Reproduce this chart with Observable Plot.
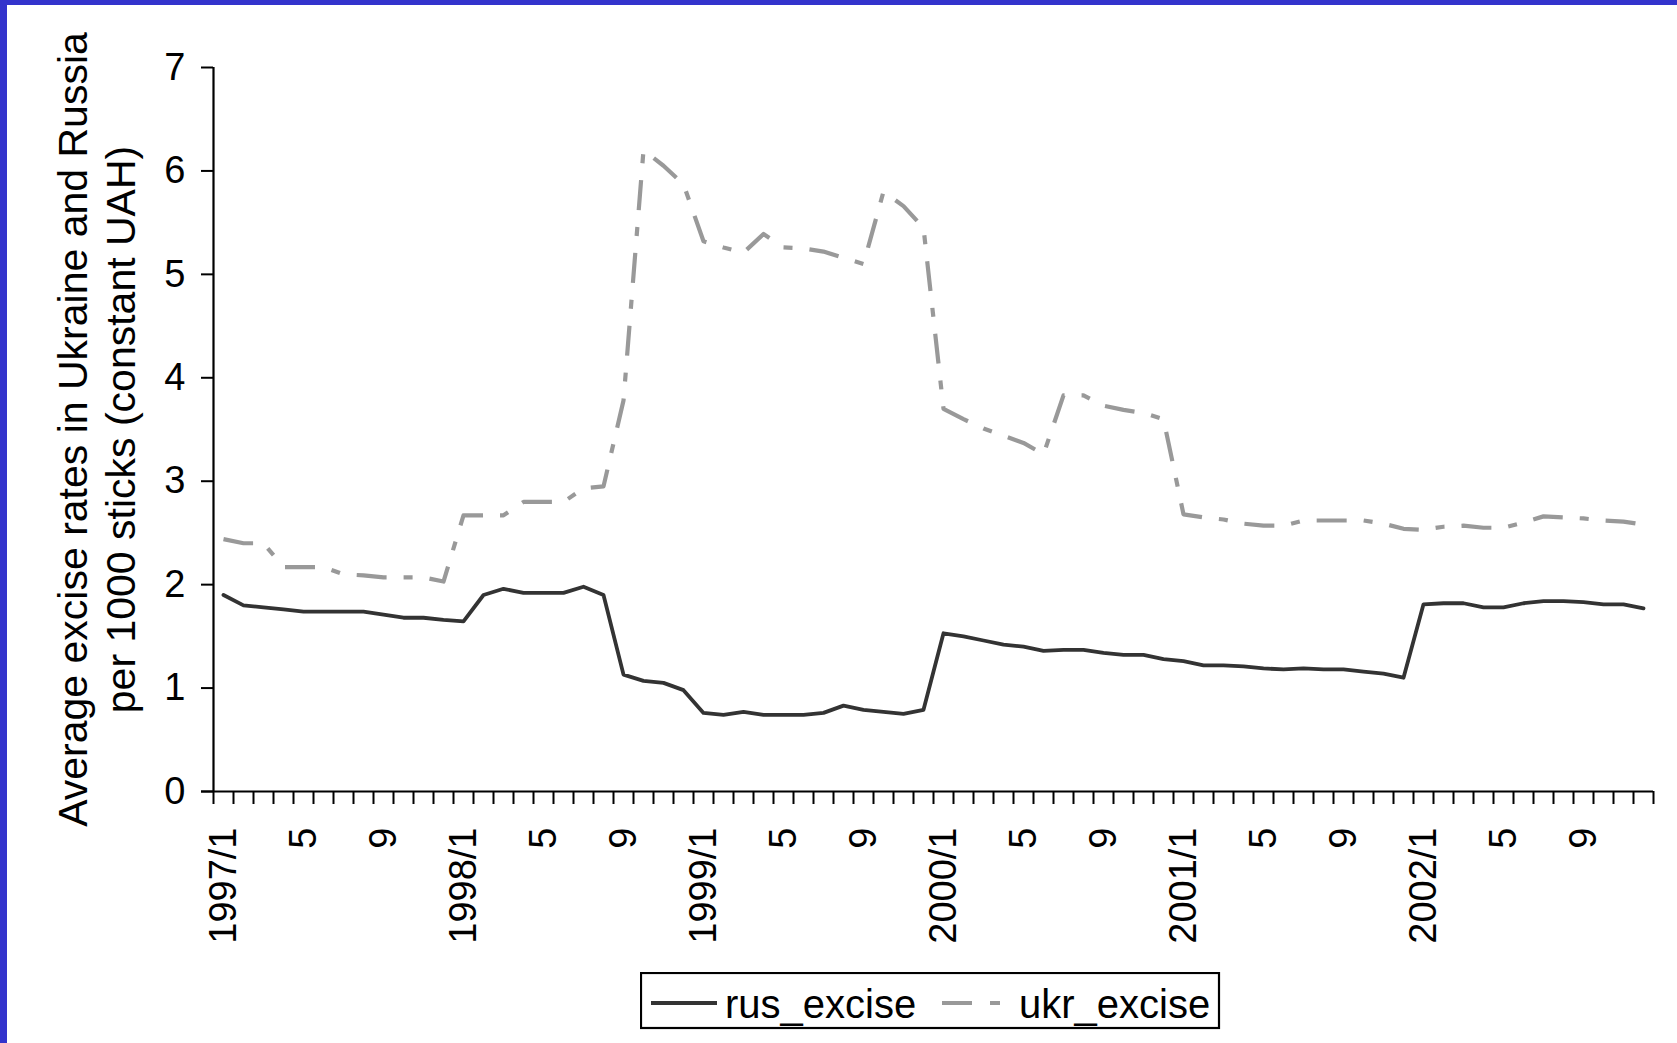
<!DOCTYPE html>
<html><head><meta charset="utf-8">
<script src="https://cdn.jsdelivr.net/npm/d3@7"></script>
<script src="https://cdn.jsdelivr.net/npm/@observablehq/plot@0.6"></script>
<style>
html,body{margin:0;padding:0;background:#3333cc;width:1677px;height:1043px;overflow:hidden;font-family:"Liberation Sans",Arial,sans-serif;}
#frame{position:absolute;left:7px;top:5px;width:1670px;height:1038px;background:#fff;}
#chart{position:absolute;left:0;top:0;}
#legend{position:absolute;left:633px;top:967px;}
</style></head><body><div id="frame"><div id="chart"></div><div id="legend"></div></div>
<script>
// Monthly series, 1997/1 .. 2002/12
const rusExcise = [
  1.90,1.80,1.78,1.76,1.74,1.74,1.74,1.74,1.71,1.68,1.68,1.66,
  1.645,1.90,1.96,1.92,1.92,1.92,1.98,1.90,1.13,1.07,1.05,0.98,
  0.76,0.74,0.77,0.74,0.74,0.74,0.76,0.83,0.79,0.77,0.75,0.79,
  1.53,1.50,1.46,1.42,1.40,1.36,1.37,1.37,1.34,1.32,1.32,1.28,
  1.26,1.22,1.22,1.21,1.19,1.18,1.19,1.18,1.18,1.16,1.14,1.10,
  1.81,1.82,1.82,1.78,1.78,1.82,1.84,1.84,1.83,1.81,1.81,1.77
];
const ukrExcise = [
  2.44,2.40,2.40,2.17,2.17,2.17,2.10,2.09,2.07,2.07,2.07,2.03,
  2.67,2.67,2.67,2.80,2.80,2.80,2.93,2.95,3.78,6.20,6.05,5.87,
  5.32,5.26,5.21,5.39,5.26,5.25,5.22,5.16,5.10,5.80,5.66,5.45,
  3.70,3.60,3.51,3.44,3.37,3.26,3.83,3.83,3.73,3.69,3.66,3.60,
  2.68,2.65,2.63,2.59,2.57,2.57,2.62,2.62,2.62,2.62,2.59,2.54,
  2.53,2.56,2.57,2.55,2.55,2.60,2.66,2.65,2.64,2.62,2.61,2.58
];
const xTickLabels = ["1997/1","5","9","1998/1","5","9","1999/1","5","9","2000/1","5","9","2001/1","5","9","2002/1","5","9"];
const xTickMonths = [0,4,8,12,16,20,24,28,32,36,40,44,48,52,56,60,64,68];
const yTicks = [0,1,2,3,4,5,6,7];
const yTitle = "Average excise rates in Ukraine and Russia\nper 1000 sticks (constant UAH)";
const seriesNames = ["rus_excise","ukr_excise"];

const nMonths = rusExcise.length;
const boundaries = d3.range(nMonths + 1).map(k => k - 0.5);
const FONT = "Liberation Sans, Arial, sans-serif";

const chart = Plot.plot({
  width: 1670,
  height: 960,
  marginLeft: 206,
  marginRight: 24,
  marginTop: 62,
  marginBottom: 174,
  style: {fontFamily: FONT, background: "white", color: "black"},
  x: {type: "linear", domain: [-0.5, nMonths - 0.5], axis: null},
  y: {domain: [0, 7], axis: null},
  marks: [
    Plot.axisY({ticks: yTicks, tickFormat: d3.format("d"), tickSize: 12, tickPadding: 16, fontSize: 38, label: null, strokeWidth: 2, stroke: "black", fill: "black"}),
    Plot.axisX({ticks: boundaries, tickSize: 13, tickFormat: () => "", label: null, strokeWidth: 2, stroke: "black"}),
    Plot.text(xTickLabels, {x: (d, i) => xTickMonths[i], text: d => d, frameAnchor: "bottom", rotate: -90, textAnchor: "end", lineAnchor: "middle", dy: 36, fontSize: 38, fill: "black"}),
    Plot.text([yTitle], {frameAnchor: "left", rotate: -90, textAnchor: "middle", lineAnchor: "middle", lineHeight: 1.17, dx: -118, fontSize: 41, fill: "black"}),
    Plot.ruleY([0], {stroke: "black", strokeWidth: 2.2, insetLeft: -12}),
    Plot.ruleX([-0.5], {stroke: "black", strokeWidth: 2.2}),
    Plot.lineY(ukrExcise, {x: (d, i) => i, y: d => d, stroke: "#999999", strokeWidth: 4.2, strokeDasharray: "30,17,9,17", strokeLinecap: "butt", strokeLinejoin: "round"}),
    Plot.lineY(rusExcise, {x: (d, i) => i, y: d => d, stroke: "#333333", strokeWidth: 3.8, strokeLinejoin: "round"})
  ]
});
document.getElementById("chart").appendChild(chart);

// Legend
const lg = d3.select("#legend").append("svg").attr("width", 582).attr("height", 60)
  .style("font-family", FONT);
lg.append("rect").attr("x", 1).attr("y", 1).attr("width", 578).attr("height", 55)
  .attr("fill", "white").attr("stroke", "black").attr("stroke-width", 2.2);
lg.append("line").attr("x1", 11).attr("x2", 77).attr("y1", 31).attr("y2", 31)
  .attr("stroke", "#333333").attr("stroke-width", 3.8);
lg.append("text").attr("x", 85).attr("y", 46).attr("font-size", 40).attr("fill", "black").text(seriesNames[0]);
lg.append("line").attr("x1", 302).attr("x2", 360).attr("y1", 31).attr("y2", 31)
  .attr("stroke", "#999999").attr("stroke-width", 4.2).attr("stroke-dasharray", "30,18,10,30");
lg.append("text").attr("x", 379).attr("y", 46).attr("font-size", 40).attr("fill", "black").text(seriesNames[1]);
</script>
</body></html>
